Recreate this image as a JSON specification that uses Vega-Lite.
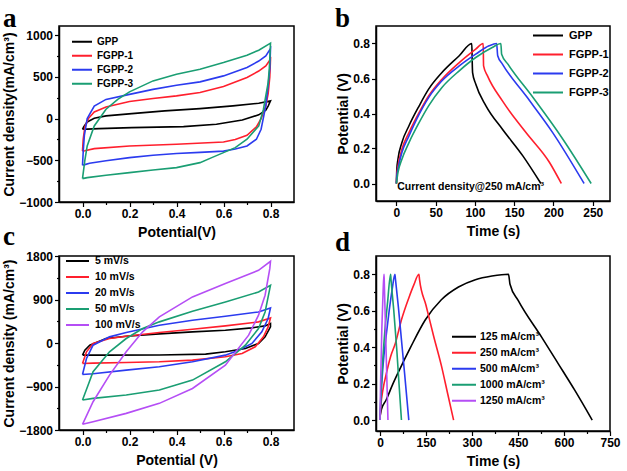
{
  "$schema": "https://vega.github.io/schema/vega-lite/v6.json",
  "background": "white",
  "padding": {"left": 2, "top": 4, "right": 2, "bottom": 0},
  "bounds": "flush",
  "columns": 2,
  "spacing": {"row": 54, "column": 82},
  "config": {
    "font": "Liberation Sans",
    "view": {"stroke": "black", "strokeWidth": 1.5},
    "axis": {"domainColor": "black", "domainWidth": 1.5, "tickColor": "black", "tickWidth": 1.2, "labelFont": "Liberation Sans", "labelFontWeight": "bold", "labelFontSize": 12, "labelColor": "black", "titleFont": "Liberation Sans", "titleFontWeight": "bold", "titleFontSize": 14, "titleColor": "black", "grid": false, "labelFlush": false, "labelOverlap": false, "labelPadding": 2, "titlePadding": 2},
    "axisX": {"titlePadding": 6},
    "legend": {"labelFont": "Liberation Sans", "labelFontWeight": "bold", "labelColor": "black", "symbolType": "stroke", "symbolStrokeWidth": 2, "orient": "none", "padding": 0, "rowPadding": 0},
    "title": {"font": "Liberation Serif", "fontWeight": "bold", "fontSize": 27, "anchor": "start", "frame": "group", "color": "black", "baseline": "alphabetic"}
  },
  "datasets": {
    "a": [
      {"s":"GPP","k":0,"V":0,"I":-128},{"s":"GPP","k":1,"V":0.005,"I":-100},{"s":"GPP","k":2,"V":0.02,"I":-40},{"s":"GPP","k":3,"V":0.05,"I":5},{"s":"GPP","k":4,"V":0.1,"I":32},{"s":"GPP","k":5,"V":0.21,"I":60},{"s":"GPP","k":6,"V":0.35,"I":92},{"s":"GPP","k":7,"V":0.5,"I":120},{"s":"GPP","k":8,"V":0.64,"I":152},{"s":"GPP","k":9,"V":0.75,"I":184},{"s":"GPP","k":10,"V":0.8,"I":212},{"s":"GPP","k":11,"V":0.79,"I":150},{"s":"GPP","k":12,"V":0.78,"I":100},{"s":"GPP","k":13,"V":0.75,"I":45},{"s":"GPP","k":14,"V":0.68,"I":-16},{"s":"GPP","k":15,"V":0.57,"I":-68},{"s":"GPP","k":16,"V":0.43,"I":-96},{"s":"GPP","k":17,"V":0.21,"I":-108},{"s":"GPP","k":18,"V":0.07,"I":-120},{"s":"GPP","k":19,"V":0.02,"I":-126},{"s":"GPP","k":20,"V":0,"I":-128},
      {"s":"FGPP-1","k":0,"V":0,"I":-390},{"s":"FGPP-1","k":1,"V":0.003,"I":-250},{"s":"FGPP-1","k":2,"V":0.01,"I":-100},{"s":"FGPP-1","k":3,"V":0.025,"I":0},{"s":"FGPP-1","k":4,"V":0.05,"I":80},{"s":"FGPP-1","k":5,"V":0.1,"I":140},{"s":"FGPP-1","k":6,"V":0.2,"I":205},{"s":"FGPP-1","k":7,"V":0.3,"I":240},{"s":"FGPP-1","k":8,"V":0.4,"I":272},{"s":"FGPP-1","k":9,"V":0.5,"I":312},{"s":"FGPP-1","k":10,"V":0.6,"I":384},{"s":"FGPP-1","k":11,"V":0.7,"I":492},{"s":"FGPP-1","k":12,"V":0.75,"I":570},{"s":"FGPP-1","k":13,"V":0.78,"I":632},{"s":"FGPP-1","k":14,"V":0.8,"I":712},{"s":"FGPP-1","k":15,"V":0.797,"I":500},{"s":"FGPP-1","k":16,"V":0.79,"I":300},{"s":"FGPP-1","k":17,"V":0.78,"I":150},{"s":"FGPP-1","k":18,"V":0.76,"I":0},{"s":"FGPP-1","k":19,"V":0.74,"I":-100},{"s":"FGPP-1","k":20,"V":0.7,"I":-200},{"s":"FGPP-1","k":21,"V":0.65,"I":-250},{"s":"FGPP-1","k":22,"V":0.6,"I":-280},{"s":"FGPP-1","k":23,"V":0.4,"I":-308},{"s":"FGPP-1","k":24,"V":0.2,"I":-328},{"s":"FGPP-1","k":25,"V":0.05,"I":-360},{"s":"FGPP-1","k":26,"V":0.01,"I":-385},{"s":"FGPP-1","k":27,"V":0,"I":-390},
      {"s":"FGPP-2","k":0,"V":0,"I":-560},{"s":"FGPP-2","k":1,"V":0.003,"I":-400},{"s":"FGPP-2","k":2,"V":0.008,"I":-200},{"s":"FGPP-2","k":3,"V":0.02,"I":0},{"s":"FGPP-2","k":4,"V":0.05,"I":150},{"s":"FGPP-2","k":5,"V":0.1,"I":230},{"s":"FGPP-2","k":6,"V":0.2,"I":290},{"s":"FGPP-2","k":7,"V":0.3,"I":350},{"s":"FGPP-2","k":8,"V":0.4,"I":400},{"s":"FGPP-2","k":9,"V":0.5,"I":440},{"s":"FGPP-2","k":10,"V":0.6,"I":512},{"s":"FGPP-2","k":11,"V":0.7,"I":612},{"s":"FGPP-2","k":12,"V":0.75,"I":690},{"s":"FGPP-2","k":13,"V":0.78,"I":752},{"s":"FGPP-2","k":14,"V":0.8,"I":840},{"s":"FGPP-2","k":15,"V":0.797,"I":600},{"s":"FGPP-2","k":16,"V":0.79,"I":400},{"s":"FGPP-2","k":17,"V":0.78,"I":152},{"s":"FGPP-2","k":18,"V":0.76,"I":-128},{"s":"FGPP-2","k":19,"V":0.74,"I":-248},{"s":"FGPP-2","k":20,"V":0.7,"I":-328},{"s":"FGPP-2","k":21,"V":0.65,"I":-365},{"s":"FGPP-2","k":22,"V":0.6,"I":-390},{"s":"FGPP-2","k":23,"V":0.5,"I":-405},{"s":"FGPP-2","k":24,"V":0.4,"I":-418},{"s":"FGPP-2","k":25,"V":0.3,"I":-440},{"s":"FGPP-2","k":26,"V":0.2,"I":-468},{"s":"FGPP-2","k":27,"V":0.1,"I":-505},{"s":"FGPP-2","k":28,"V":0.03,"I":-535},{"s":"FGPP-2","k":29,"V":0.01,"I":-552},{"s":"FGPP-2","k":30,"V":0,"I":-560},
      {"s":"FGPP-3","k":0,"V":0,"I":-720},{"s":"FGPP-3","k":1,"V":0.01,"I":-500},{"s":"FGPP-3","k":2,"V":0.02,"I":-328},{"s":"FGPP-3","k":3,"V":0.05,"I":-88},{"s":"FGPP-3","k":4,"V":0.1,"I":112},{"s":"FGPP-3","k":5,"V":0.15,"I":230},{"s":"FGPP-3","k":6,"V":0.2,"I":320},{"s":"FGPP-3","k":7,"V":0.3,"I":452},{"s":"FGPP-3","k":8,"V":0.4,"I":532},{"s":"FGPP-3","k":9,"V":0.5,"I":592},{"s":"FGPP-3","k":10,"V":0.6,"I":672},{"s":"FGPP-3","k":11,"V":0.7,"I":760},{"s":"FGPP-3","k":12,"V":0.75,"I":820},{"s":"FGPP-3","k":13,"V":0.8,"I":904},{"s":"FGPP-3","k":14,"V":0.795,"I":600},{"s":"FGPP-3","k":15,"V":0.79,"I":432},{"s":"FGPP-3","k":16,"V":0.77,"I":112},{"s":"FGPP-3","k":17,"V":0.75,"I":-88},{"s":"FGPP-3","k":18,"V":0.7,"I":-248},{"s":"FGPP-3","k":19,"V":0.65,"I":-348},{"s":"FGPP-3","k":20,"V":0.6,"I":-408},{"s":"FGPP-3","k":21,"V":0.55,"I":-468},{"s":"FGPP-3","k":22,"V":0.5,"I":-528},{"s":"FGPP-3","k":23,"V":0.4,"I":-588},{"s":"FGPP-3","k":24,"V":0.3,"I":-616},{"s":"FGPP-3","k":25,"V":0.2,"I":-648},{"s":"FGPP-3","k":26,"V":0.1,"I":-680},{"s":"FGPP-3","k":27,"V":0.02,"I":-708},{"s":"FGPP-3","k":28,"V":0,"I":-720}
    ],
    "b": [
      {"s":"GPP","k":0,"t":0,"V":0},{"s":"GPP","k":1,"t":0.5,"V":0.08},{"s":"GPP","k":2,"t":2,"V":0.14},{"s":"GPP","k":3,"t":7,"V":0.234},{"s":"GPP","k":4,"t":16,"V":0.33},{"s":"GPP","k":5,"t":29,"V":0.444},{"s":"GPP","k":6,"t":41,"V":0.539},{"s":"GPP","k":7,"t":58,"V":0.634},{"s":"GPP","k":8,"t":80,"V":0.73},{"s":"GPP","k":9,"t":96,"V":0.8},{"s":"GPP","k":10,"t":96.5,"V":0.7},{"s":"GPP","k":11,"t":97,"V":0.634},{"s":"GPP","k":12,"t":101,"V":0.568},{"s":"GPP","k":13,"t":114,"V":0.444},{"s":"GPP","k":14,"t":135,"V":0.31},{"s":"GPP","k":15,"t":161,"V":0.158},{"s":"GPP","k":16,"t":184,"V":0},
      {"s":"FGPP-1","k":0,"t":0,"V":0},{"s":"FGPP-1","k":1,"t":0.5,"V":0.05},{"s":"FGPP-1","k":2,"t":2,"V":0.1},{"s":"FGPP-1","k":3,"t":7,"V":0.196},{"s":"FGPP-1","k":4,"t":16,"V":0.291},{"s":"FGPP-1","k":5,"t":29,"V":0.406},{"s":"FGPP-1","k":6,"t":41,"V":0.5},{"s":"FGPP-1","k":7,"t":58,"V":0.596},{"s":"FGPP-1","k":8,"t":80,"V":0.691},{"s":"FGPP-1","k":9,"t":101,"V":0.768},{"s":"FGPP-1","k":10,"t":110.5,"V":0.8},{"s":"FGPP-1","k":11,"t":111,"V":0.672},{"s":"FGPP-1","k":12,"t":116,"V":0.615},{"s":"FGPP-1","k":13,"t":135,"V":0.472},{"s":"FGPP-1","k":14,"t":165,"V":0.291},{"s":"FGPP-1","k":15,"t":195,"V":0.12},{"s":"FGPP-1","k":16,"t":210,"V":0},
      {"s":"FGPP-2","k":0,"t":0,"V":0},{"s":"FGPP-2","k":1,"t":0.5,"V":0.04},{"s":"FGPP-2","k":2,"t":2,"V":0.082},{"s":"FGPP-2","k":3,"t":7,"V":0.177},{"s":"FGPP-2","k":4,"t":16,"V":0.272},{"s":"FGPP-2","k":5,"t":29,"V":0.396},{"s":"FGPP-2","k":6,"t":41,"V":0.491},{"s":"FGPP-2","k":7,"t":58,"V":0.587},{"s":"FGPP-2","k":8,"t":80,"V":0.672},{"s":"FGPP-2","k":9,"t":101,"V":0.739},{"s":"FGPP-2","k":10,"t":118,"V":0.787},{"s":"FGPP-2","k":11,"t":127.6,"V":0.8},{"s":"FGPP-2","k":12,"t":129,"V":0.73},{"s":"FGPP-2","k":13,"t":135,"V":0.682},{"s":"FGPP-2","k":14,"t":165,"V":0.501},{"s":"FGPP-2","k":15,"t":199,"V":0.291},{"s":"FGPP-2","k":16,"t":239,"V":0},
      {"s":"FGPP-3","k":0,"t":0,"V":0},{"s":"FGPP-3","k":1,"t":2,"V":0.063},{"s":"FGPP-3","k":2,"t":7,"V":0.139},{"s":"FGPP-3","k":3,"t":16,"V":0.234},{"s":"FGPP-3","k":4,"t":29,"V":0.349},{"s":"FGPP-3","k":5,"t":41,"V":0.444},{"s":"FGPP-3","k":6,"t":58,"V":0.549},{"s":"FGPP-3","k":7,"t":80,"V":0.644},{"s":"FGPP-3","k":8,"t":101,"V":0.72},{"s":"FGPP-3","k":9,"t":122,"V":0.777},{"s":"FGPP-3","k":10,"t":133,"V":0.8},{"s":"FGPP-3","k":11,"t":134,"V":0.739},{"s":"FGPP-3","k":12,"t":142,"V":0.682},{"s":"FGPP-3","k":13,"t":174,"V":0.491},{"s":"FGPP-3","k":14,"t":212,"V":0.253},{"s":"FGPP-3","k":15,"t":248,"V":0}
    ],
    "bnote": [{"t": 1, "V": -0.022, "label": "Current density@250 mA/cm³"}],
    "c": [
      {"s":"5 mV/s","k":0,"V":0,"I":-251},{"s":"5 mV/s","k":1,"V":0.01,"I":-148},{"s":"5 mV/s","k":2,"V":0.031,"I":-45},{"s":"5 mV/s","k":3,"V":0.059,"I":10},{"s":"5 mV/s","k":4,"V":0.1,"I":93},{"s":"5 mV/s","k":5,"V":0.186,"I":141},{"s":"5 mV/s","k":6,"V":0.327,"I":189},{"s":"5 mV/s","k":7,"V":0.468,"I":231},{"s":"5 mV/s","k":8,"V":0.608,"I":265},{"s":"5 mV/s","k":9,"V":0.72,"I":313},{"s":"5 mV/s","k":10,"V":0.777,"I":354},{"s":"5 mV/s","k":11,"V":0.8,"I":403},{"s":"5 mV/s","k":12,"V":0.8,"I":334},{"s":"5 mV/s","k":13,"V":0.777,"I":127},{"s":"5 mV/s","k":14,"V":0.749,"I":-10},{"s":"5 mV/s","k":15,"V":0.693,"I":-114},{"s":"5 mV/s","k":16,"V":0.608,"I":-182},{"s":"5 mV/s","k":17,"V":0.524,"I":-230},{"s":"5 mV/s","k":18,"V":0.327,"I":-248},{"s":"5 mV/s","k":19,"V":0.1,"I":-251},{"s":"5 mV/s","k":20,"V":0,"I":-251},
      {"s":"10 mV/s","k":0,"V":0,"I":-423},{"s":"10 mV/s","k":1,"V":0.017,"I":-182},{"s":"10 mV/s","k":2,"V":0.045,"I":-10},{"s":"10 mV/s","k":3,"V":0.115,"I":93},{"s":"10 mV/s","k":4,"V":0.186,"I":141},{"s":"10 mV/s","k":5,"V":0.327,"I":217},{"s":"10 mV/s","k":6,"V":0.468,"I":286},{"s":"10 mV/s","k":7,"V":0.608,"I":354},{"s":"10 mV/s","k":8,"V":0.749,"I":437},{"s":"10 mV/s","k":9,"V":0.8,"I":520},{"s":"10 mV/s","k":10,"V":0.79,"I":334},{"s":"10 mV/s","k":11,"V":0.77,"I":127},{"s":"10 mV/s","k":12,"V":0.735,"I":-79},{"s":"10 mV/s","k":13,"V":0.679,"I":-217},{"s":"10 mV/s","k":14,"V":0.608,"I":-286},{"s":"10 mV/s","k":15,"V":0.468,"I":-354},{"s":"10 mV/s","k":16,"V":0.327,"I":-389},{"s":"10 mV/s","k":17,"V":0.186,"I":-403},{"s":"10 mV/s","k":18,"V":0.045,"I":-416},{"s":"10 mV/s","k":19,"V":0,"I":-423},
      {"s":"20 mV/s","k":0,"V":0,"I":-651},{"s":"20 mV/s","k":1,"V":0.017,"I":-320},{"s":"20 mV/s","k":2,"V":0.045,"I":-45},{"s":"20 mV/s","k":3,"V":0.115,"I":127},{"s":"20 mV/s","k":4,"V":0.186,"I":217},{"s":"20 mV/s","k":5,"V":0.327,"I":368},{"s":"20 mV/s","k":6,"V":0.468,"I":471},{"s":"20 mV/s","k":7,"V":0.608,"I":554},{"s":"20 mV/s","k":8,"V":0.749,"I":643},{"s":"20 mV/s","k":9,"V":0.8,"I":726},{"s":"20 mV/s","k":10,"V":0.79,"I":506},{"s":"20 mV/s","k":11,"V":0.763,"I":230},{"s":"20 mV/s","k":12,"V":0.721,"I":-10},{"s":"20 mV/s","k":13,"V":0.665,"I":-148},{"s":"20 mV/s","k":14,"V":0.608,"I":-251},{"s":"20 mV/s","k":15,"V":0.468,"I":-389},{"s":"20 mV/s","k":16,"V":0.327,"I":-492},{"s":"20 mV/s","k":17,"V":0.186,"I":-561},{"s":"20 mV/s","k":18,"V":0.045,"I":-637},{"s":"20 mV/s","k":19,"V":0,"I":-651},
      {"s":"50 mV/s","k":0,"V":0,"I":-1180},{"s":"50 mV/s","k":1,"V":0.024,"I":-870},{"s":"50 mV/s","k":2,"V":0.045,"I":-595},{"s":"50 mV/s","k":3,"V":0.115,"I":-182},{"s":"50 mV/s","k":4,"V":0.186,"I":93},{"s":"50 mV/s","k":5,"V":0.256,"I":299},{"s":"50 mV/s","k":6,"V":0.327,"I":437},{"s":"50 mV/s","k":7,"V":0.468,"I":657},{"s":"50 mV/s","k":8,"V":0.608,"I":850},{"s":"50 mV/s","k":9,"V":0.749,"I":1056},{"s":"50 mV/s","k":10,"V":0.8,"I":1194},{"s":"50 mV/s","k":11,"V":0.797,"I":1125},{"s":"50 mV/s","k":12,"V":0.777,"I":643},{"s":"50 mV/s","k":13,"V":0.749,"I":299},{"s":"50 mV/s","k":14,"V":0.693,"I":-45},{"s":"50 mV/s","k":15,"V":0.608,"I":-389},{"s":"50 mV/s","k":16,"V":0.468,"I":-768},{"s":"50 mV/s","k":17,"V":0.327,"I":-974},{"s":"50 mV/s","k":18,"V":0.186,"I":-1077},{"s":"50 mV/s","k":19,"V":0.045,"I":-1146},{"s":"50 mV/s","k":20,"V":0,"I":-1180},
      {"s":"100 mV/s","k":0,"V":0,"I":-1683},{"s":"100 mV/s","k":1,"V":0.045,"I":-1215},{"s":"100 mV/s","k":2,"V":0.115,"I":-664},{"s":"100 mV/s","k":3,"V":0.186,"I":-182},{"s":"100 mV/s","k":4,"V":0.256,"I":231},{"s":"100 mV/s","k":5,"V":0.327,"I":540},{"s":"100 mV/s","k":6,"V":0.468,"I":953},{"s":"100 mV/s","k":7,"V":0.608,"I":1229},{"s":"100 mV/s","k":8,"V":0.749,"I":1504},{"s":"100 mV/s","k":9,"V":0.8,"I":1690},{"s":"100 mV/s","k":10,"V":0.797,"I":1538},{"s":"100 mV/s","k":11,"V":0.777,"I":988},{"s":"100 mV/s","k":12,"V":0.749,"I":575},{"s":"100 mV/s","k":13,"V":0.707,"I":162},{"s":"100 mV/s","k":14,"V":0.608,"I":-458},{"s":"100 mV/s","k":15,"V":0.468,"I":-940},{"s":"100 mV/s","k":16,"V":0.327,"I":-1249},{"s":"100 mV/s","k":17,"V":0.186,"I":-1456},{"s":"100 mV/s","k":18,"V":0.045,"I":-1628},{"s":"100 mV/s","k":19,"V":0,"I":-1683}
    ],
    "d": [
      {"s":"125 mA/cm³","k":0,"t":0,"V":0.02},{"s":"125 mA/cm³","k":1,"t":5,"V":0.06},{"s":"125 mA/cm³","k":2,"t":20,"V":0.11},{"s":"125 mA/cm³","k":3,"t":40,"V":0.19},{"s":"125 mA/cm³","k":4,"t":62,"V":0.27},{"s":"125 mA/cm³","k":5,"t":100,"V":0.4},{"s":"125 mA/cm³","k":6,"t":148,"V":0.55},{"s":"125 mA/cm³","k":7,"t":200,"V":0.66},{"s":"125 mA/cm³","k":8,"t":256,"V":0.73},{"s":"125 mA/cm³","k":9,"t":311,"V":0.77},{"s":"125 mA/cm³","k":10,"t":365,"V":0.79},{"s":"125 mA/cm³","k":11,"t":419,"V":0.8},{"s":"125 mA/cm³","k":12,"t":424,"V":0.745},{"s":"125 mA/cm³","k":13,"t":451,"V":0.655},{"s":"125 mA/cm³","k":14,"t":527,"V":0.455},{"s":"125 mA/cm³","k":15,"t":581,"V":0.31},{"s":"125 mA/cm³","k":16,"t":635,"V":0.164},{"s":"125 mA/cm³","k":17,"t":692,"V":0},
      {"s":"250 mA/cm³","k":0,"t":0,"V":0},{"s":"250 mA/cm³","k":1,"t":3,"V":0.08},{"s":"250 mA/cm³","k":2,"t":10,"V":0.17},{"s":"250 mA/cm³","k":3,"t":20,"V":0.25},{"s":"250 mA/cm³","k":4,"t":35,"V":0.35},{"s":"250 mA/cm³","k":5,"t":50,"V":0.42},{"s":"250 mA/cm³","k":6,"t":70,"V":0.55},{"s":"250 mA/cm³","k":7,"t":94,"V":0.67},{"s":"250 mA/cm³","k":8,"t":110,"V":0.74},{"s":"250 mA/cm³","k":9,"t":127,"V":0.8},{"s":"250 mA/cm³","k":10,"t":129,"V":0.77},{"s":"250 mA/cm³","k":11,"t":150,"V":0.63},{"s":"250 mA/cm³","k":12,"t":175,"V":0.46},{"s":"250 mA/cm³","k":13,"t":200,"V":0.3},{"s":"250 mA/cm³","k":14,"t":220,"V":0.15},{"s":"250 mA/cm³","k":15,"t":240,"V":0},
      {"s":"500 mA/cm³","k":0,"t":0,"V":0},{"s":"500 mA/cm³","k":1,"t":3,"V":0.12},{"s":"500 mA/cm³","k":2,"t":10,"V":0.3},{"s":"500 mA/cm³","k":3,"t":20,"V":0.46},{"s":"500 mA/cm³","k":4,"t":30,"V":0.6},{"s":"500 mA/cm³","k":5,"t":40,"V":0.72},{"s":"500 mA/cm³","k":6,"t":48.7,"V":0.8},{"s":"500 mA/cm³","k":7,"t":50,"V":0.78},{"s":"500 mA/cm³","k":8,"t":60,"V":0.62},{"s":"500 mA/cm³","k":9,"t":70,"V":0.44},{"s":"500 mA/cm³","k":10,"t":80,"V":0.26},{"s":"500 mA/cm³","k":11,"t":94,"V":0},
      {"s":"1000 mA/cm³","k":0,"t":0,"V":0},{"s":"1000 mA/cm³","k":1,"t":2,"V":0.1},{"s":"1000 mA/cm³","k":2,"t":8,"V":0.3},{"s":"1000 mA/cm³","k":3,"t":15,"V":0.47},{"s":"1000 mA/cm³","k":4,"t":25,"V":0.65},{"s":"1000 mA/cm³","k":5,"t":34.6,"V":0.8},{"s":"1000 mA/cm³","k":6,"t":36,"V":0.77},{"s":"1000 mA/cm³","k":7,"t":45,"V":0.6},{"s":"1000 mA/cm³","k":8,"t":55,"V":0.38},{"s":"1000 mA/cm³","k":9,"t":62,"V":0.2},{"s":"1000 mA/cm³","k":10,"t":70,"V":0},
      {"s":"1250 mA/cm³","k":0,"t":0,"V":0},{"s":"1250 mA/cm³","k":1,"t":2,"V":0.2},{"s":"1250 mA/cm³","k":2,"t":6,"V":0.5},{"s":"1250 mA/cm³","k":3,"t":10,"V":0.7},{"s":"1250 mA/cm³","k":4,"t":13,"V":0.8},{"s":"1250 mA/cm³","k":5,"t":14,"V":0.76},{"s":"1250 mA/cm³","k":6,"t":18,"V":0.5},{"s":"1250 mA/cm³","k":7,"t":22,"V":0.25},{"s":"1250 mA/cm³","k":8,"t":26,"V":0}
    ]
  },
  "resolve": {"scale": {"color": "independent", "x": "independent", "y": "independent"}, "legend": {"color": "independent"}},
  "concat": [
    {
      "width": 235, "height": 176,
      "title": {"text": "a", "dx": -56, "offset": -7},
      "data": {"name": "a"},
      "mark": {"type": "line", "strokeWidth": 1.6},
      "encoding": {
        "x": {"field": "V", "type": "quantitative", "scale": {"domain": [-0.1, 0.9], "nice": false, "zero": false},
              "axis": {"title": "Potential(V)", "values": [0,0.1,0.2,0.3,0.4,0.5,0.6,0.7,0.8], "labelExpr": "round(datum.value*10)%2==0 ? format(datum.value,'.1f') : ''", "tickSize": {"condition": {"test": "round(datum.value*10)%2!=0", "value": 2.5}, "value": 4.5}}},
        "y": {"field": "I", "type": "quantitative", "scale": {"domain": [-1000, 1110], "nice": false, "zero": false},
              "axis": {"title": "Current density(mA/cm³)", "values": [-1000,-750,-500,-250,0,250,500,750,1000], "labelExpr": "datum.value%500==0 ? format(datum.value,'d') : ''", "tickSize": {"condition": {"test": "datum.value%500!=0", "value": 2.5}, "value": 4.5}}},
        "color": {"field": "s", "type": "nominal", "scale": {"domain": ["GPP","FGPP-1","FGPP-2","FGPP-3"], "range": ["#000000","#ff1f2d","#2b3bef","#1a9e73"]},
                  "legend": {"title": null, "legendX": 12, "legendY": 9, "symbolSize": 400, "labelFontSize": 10, "labelOffset": 4, "clipHeight": 13.5}},
        "order": {"field": "k", "type": "quantitative"}
      }
    },
    {
      "width": 234, "height": 175,
      "title": {"text": "b", "dx": -41, "offset": -7},
      "layer": [
        {
          "data": {"name": "b"},
          "mark": {"type": "line", "strokeWidth": 1.6, "interpolate": "monotone"},
          "encoding": {
            "x": {"field": "t", "type": "quantitative", "scale": {"domain": [-26, 272], "nice": false, "zero": false},
                  "axis": {"title": "Time (s)", "values": [0,25,50,75,100,125,150,175,200,225,250], "labelExpr": "datum.value%50==0 ? format(datum.value,'d') : ''", "tickSize": {"condition": {"test": "datum.value%50!=0", "value": 2.5}, "value": 4.5}}},
            "y": {"field": "V", "type": "quantitative", "scale": {"domain": [-0.1, 0.9], "nice": false, "zero": false},
                  "axis": {"title": "Potential (V)", "values": [0,0.1,0.2,0.3,0.4,0.5,0.6,0.7,0.8], "labelExpr": "round(datum.value*10)%2==0 ? format(datum.value,'.1f') : ''", "tickSize": {"condition": {"test": "round(datum.value*10)%2!=0", "value": 2.5}, "value": 4.5}}},
            "color": {"field": "s", "type": "nominal", "scale": {"domain": ["GPP","FGPP-1","FGPP-2","FGPP-3"], "range": ["#000000","#ff1f2d","#2b3bef","#1a9e73"]},
                      "legend": {"title": null, "legendX": 156, "legendY": 0, "symbolSize": 900, "labelFontSize": 11, "labelOffset": 5, "clipHeight": 19}},
            "order": {"field": "k", "type": "quantitative"}
          }
        },
        {
          "data": {"name": "bnote"},
          "mark": {"type": "text", "align": "left", "baseline": "middle", "fontSize": 10.5, "fontWeight": "bold", "font": "Liberation Sans", "color": "black"},
          "encoding": {
            "x": {"field": "t", "type": "quantitative"},
            "y": {"field": "V", "type": "quantitative"},
            "text": {"field": "label"}
          }
        }
      ]
    },
    {
      "width": 235, "height": 174,
      "title": {"text": "c", "dx": -56, "offset": -1},
      "data": {"name": "c"},
      "mark": {"type": "line", "strokeWidth": 1.6},
      "encoding": {
        "x": {"field": "V", "type": "quantitative", "scale": {"domain": [-0.1, 0.9], "nice": false, "zero": false},
              "axis": {"title": "Potential (V)", "values": [0,0.1,0.2,0.3,0.4,0.5,0.6,0.7,0.8], "labelExpr": "round(datum.value*10)%2==0 ? format(datum.value,'.1f') : ''", "tickSize": {"condition": {"test": "round(datum.value*10)%2!=0", "value": 2.5}, "value": 4.5}}},
        "y": {"field": "I", "type": "quantitative", "scale": {"domain": [-1800, 1800], "nice": false, "zero": false},
              "axis": {"title": "Current density (mA/cm³)", "values": [-1800,-1350,-900,-450,0,450,900,1350,1800], "labelExpr": "datum.value%900==0 ? format(datum.value,'d') : ''", "tickSize": {"condition": {"test": "datum.value%900!=0", "value": 2.5}, "value": 4.5}}},
        "color": {"field": "s", "type": "nominal", "scale": {"domain": ["5 mV/s","10 mV/s","20 mV/s","50 mV/s","100 mV/s"], "range": ["#000000","#ff1f2d","#2b3bef","#1a9e73","#b54ef5"]},
                  "legend": {"title": null, "legendX": 6, "legendY": -2.6, "symbolSize": 529, "labelFontSize": 10.5, "labelOffset": 5, "clipHeight": 15.3}},
        "order": {"field": "k", "type": "quantitative"}
      }
    },
    {
      "width": 234, "height": 175,
      "title": {"text": "d", "dx": -41, "offset": -1},
      "data": {"name": "d"},
      "mark": {"type": "line", "strokeWidth": 1.6, "interpolate": "monotone"},
      "encoding": {
        "x": {"field": "t", "type": "quantitative", "scale": {"domain": [-13, 750], "nice": false, "zero": false},
              "axis": {"title": "Time (s)", "values": [0,75,150,225,300,375,450,525,600,675,750], "labelExpr": "datum.value%150==0 ? format(datum.value,'d') : ''", "tickSize": {"condition": {"test": "datum.value%150!=0", "value": 2.5}, "value": 4.5}}},
        "y": {"field": "V", "type": "quantitative", "scale": {"domain": [-0.06, 0.9], "nice": false, "zero": false},
              "axis": {"title": "Potential (V)", "values": [0,0.1,0.2,0.3,0.4,0.5,0.6,0.7,0.8], "labelExpr": "round(datum.value*10)%2==0 ? format(datum.value,'.1f') : ''", "tickSize": {"condition": {"test": "round(datum.value*10)%2!=0", "value": 2.5}, "value": 4.5}}},
        "color": {"field": "s", "type": "nominal", "scale": {"domain": ["125 mA/cm³","250 mA/cm³","500 mA/cm³","1000 mA/cm³","1250 mA/cm³"], "range": ["#000000","#ff1f2d","#2b3bef","#1a9e73","#b54ef5"]},
                  "legend": {"title": null, "legendX": 75, "legendY": 72.8, "symbolSize": 576, "labelFontSize": 10.5, "labelOffset": 3, "clipHeight": 15.7}},
        "order": {"field": "k", "type": "quantitative"}
      }
    }
  ]
}
